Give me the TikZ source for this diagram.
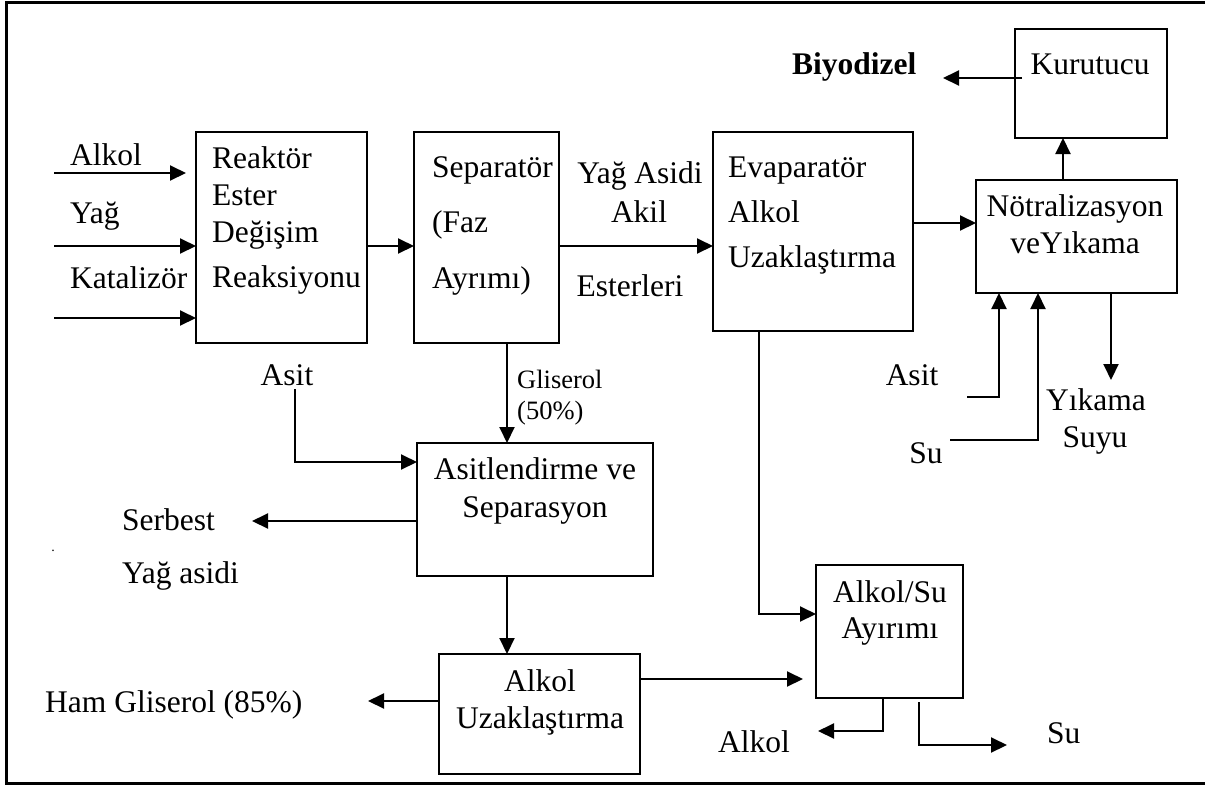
\documentclass[tikz,border=0pt]{standalone}
\usepackage{fontspec}
\setmainfont{Liberation Serif}
\usetikzlibrary{arrows.meta}
\begin{document}
\begin{tikzpicture}[x=1pt,y=-1pt,
  box/.style={draw,line width=2pt,inner sep=0pt,outer sep=0pt},
  lbl/.style={font=\fontsize{31.5}{37}\selectfont,inner sep=0pt,anchor=base west},
  clbl/.style={font=\fontsize{31.5}{37}\selectfont,inner sep=0pt,anchor=base},
  slbl/.style={font=\fontsize{26.5}{31}\selectfont,inner sep=0pt,anchor=base west},
  arr/.style={line width=2pt,-{Triangle[length=16pt,width=15pt]}},
  ln/.style={line width=2pt}]
\useasboundingbox (0,0) rectangle (1205,785);
% outer frame (open on the right)
\draw[line width=3pt] (1205,2) -- (6,2) -- (6,783) -- (1205,783);

% process blocks
\node[box,minimum width=171pt,minimum height=211pt] (r) at (281.5,237.5) {};
\node[box,minimum width=145pt,minimum height=211pt] (s) at (486.5,237.5) {};
\node[box,minimum width=200pt,minimum height=199pt] (e) at (813,231.5) {};
\node[box,minimum width=152pt,minimum height=109pt] (k) at (1091,83.5) {};
\node[box,minimum width=201pt,minimum height=113pt] (n) at (1076.5,236.5) {};
\node[box,minimum width=236pt,minimum height=133pt] (a) at (535,509.5) {};
\node[box,minimum width=201pt,minimum height=120pt] (u) at (539.5,714) {};
\node[box,minimum width=147pt,minimum height=133pt] (w) at (889.5,631.5) {};

% block texts
\node[lbl] (rt1) at (212,168) {Reaktör};
\node[lbl] (rt2) at (212,205) {Ester};
\node[lbl] (rt3) at (212,242) {Değişim};
\node[lbl] (rt4) at (212,287) {Reaksiyonu};
\node[lbl] (st1) at (432,177) {Separatör};
\node[lbl] (st2) at (432,232) {(Faz};
\node[lbl] (st3) at (432,288) {Ayrımı)};
\node[lbl] (et1) at (728,177) {Evaparatör};
\node[lbl] (et2) at (728,222) {Alkol};
\node[lbl] (et3) at (728,267) {Uzaklaştırma};
\node[clbl] (kt) at (1090,74) {Kurutucu};
\node[clbl] (nt1) at (1075,216) {Nötralizasyon};
\node[clbl] (nt2) at (1075,253) {veYıkama};
\node[clbl] (at1) at (535,479) {Asitlendirme ve};
\node[clbl] (at2) at (535,517) {Separasyon};
\node[clbl] (ut1) at (540,691) {Alkol};
\node[clbl] (ut2) at (540,728) {Uzaklaştırma};
\node[clbl] (wt1) at (890,602) {Alkol/Su};
\node[clbl] (wt2) at (890,638) {Ayırımı};

% stream labels
\node[lbl] (lAlkol) at (70,165) {Alkol};
\node[lbl] (lYag) at (70,223) {Yağ};
\node[lbl] (lKat) at (70,288) {Katalizör};
\node[clbl] (lYA1) at (640,183) {Yağ Asidi};
\node[clbl] (lYA2) at (639,222) {Akil};
\node[clbl] (lYA3) at (630,296) {Esterleri};
\node[lbl,font=\fontsize{31.5}{37}\selectfont\bfseries] (lBio) at (792,74) {Biyodizel};
\node[clbl] (lAsitN) at (912,385) {Asit};
\node[clbl] (lSuN) at (926,463) {Su};
\node[clbl] (lYik1) at (1096,410) {Yıkama};
\node[clbl] (lYik2) at (1095,447) {Suyu};
\node[clbl] (lAsitA) at (287,385) {Asit};
\node[slbl] (lGl1) at (517,388) {Gliserol};
\node[slbl] (lGl2) at (517,419) {(50\%)};
\node[lbl] (lSer1) at (122,530) {Serbest};
\node[lbl] (lSer2) at (122,583) {Yağ asidi};
\node[clbl,font=\fontsize{14}{16}\selectfont] (dot) at (53,551) {.};
\node[lbl] (lHam) at (45,712) {Ham Gliserol (85\%)};
\node[clbl] (lAlkOut) at (754,752) {Alkol};
\node[lbl] (lSuOut) at (1047,743) {Su};

% free ends and bend points of the streams
\coordinate (alkIn) at (54,173);
\coordinate (alkTip) at (186,173);
\coordinate (yagIn) at (54,246);
\coordinate (katIn) at (54,318);
\coordinate (enY) at (0,223);
\coordinate (nkX) at (1063,0);
\coordinate (bioTip) at (943,78);
\coordinate (asitN) at (967,397);
\coordinate (asitNX) at (999,0);
\coordinate (suN) at (950,440);
\coordinate (suNX) at (1038,0);
\coordinate (yikTip) at (1111,380);
\coordinate (ewY) at (759,614);
\coordinate (saX) at (507,0);
\coordinate (asitA) at (295,389);
\coordinate (asitY) at (0,462);
\coordinate (serTip) at (252,521);
\coordinate (hamTip) at (368,701);
\coordinate (uwTip) at (803,679);
\coordinate (wAlk) at (883,731);
\coordinate (alkOutTip) at (818,731);
\coordinate (suX) at (919,745);
\coordinate (suTip) at (1007,745);

% feeds to the reactor
\draw[arr] (alkIn) -- (alkTip);
\draw[arr] (yagIn) -- (r.west |- yagIn);
\draw[arr] (katIn) -- (r.west |- katIn);
% main line
\draw[arr] (r.east |- yagIn) -- (s.west |- yagIn);
\draw[arr] (s.east |- yagIn) -- (e.west |- yagIn);
\draw[arr] (e.east |- enY) -- (n.west |- enY);
\draw[arr] (n.north -| nkX) -- (k.south -| nkX);
\draw[arr] ([xshift=7pt]k.west |- bioTip) -- (bioTip);
% washing
\draw[arr] (asitN) -| (n.south -| asitNX);
\draw[arr] (suN) -| (n.south -| suNX);
\draw[arr] (n.south -| yikTip) -- (yikTip);
% alcohol recovery
\draw[arr] (e.south -| ewY) |- (w.west |- ewY);
% glycerol line
\draw[arr] (s.south -| saX) -- (a.north -| saX);
\draw[arr] (asitA) |- (a.west |- asitY);
\draw[arr] (a.west |- serTip) -- (serTip);
\draw[arr] (a.south -| saX) -- (u.north -| saX);
\draw[arr] (u.west |- hamTip) -- (hamTip);
\draw[arr] (u.east |- uwTip) -- (uwTip);
% alcohol / water split
\draw[arr] (w.south -| wAlk) |- (alkOutTip);
\draw[arr] ([yshift=-4pt]w.south -| suX) |- (suTip);
\end{tikzpicture}
\end{document}
